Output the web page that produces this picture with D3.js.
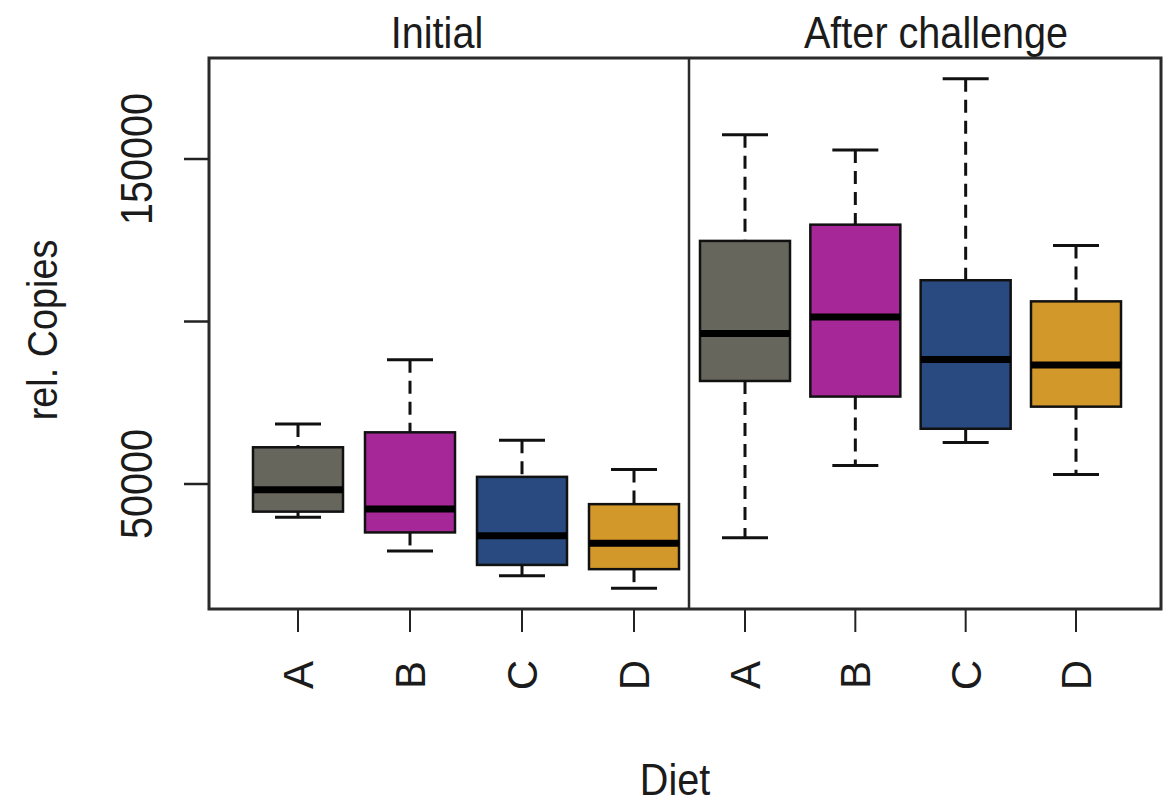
<!DOCTYPE html>
<html>
<head>
<meta charset="utf-8">
<script src="https://cdn.jsdelivr.net/npm/d3@7"></script>
<style>
  html, body { margin: 0; padding: 0; background: #fff; }
  svg { display: block; }
  text { font-family: "Liberation Sans", Arial, sans-serif; fill: #1b1b1b; }
</style>
</head>
<body>
<svg id="chart" width="1163" height="808"></svg>
<script>
// Diet groups and measurement periods
const diets = ["A", "B", "C", "D"];
const periods = ["Initial", "After challenge"];
const dietColors = ["#67665c", "#a62898", "#284a80", "#d3982a"];

// Five-number summaries per diet, initial sampling
const initialLow    = [39800, 29400, 21800, 17900];
const initialQ1     = [41500, 35100, 25100, 23800];
const initialMedian = [48200, 42300, 34100, 31800];
const initialQ3     = [61300, 65900, 52200, 43800];
const initialHigh   = [68500, 88200, 63500, 54500];

// Five-number summaries per diet, after challenge
const challengeLow    = [33500, 55700, 62800, 52900];
const challengeQ1     = [81700, 76900, 67000, 73800];
const challengeMedian = [96300, 101400, 88300, 86600];
const challengeQ3     = [124800, 129800, 112700, 106200];
const challengeHigh   = [157500, 152800, 174700, 123400];

// Axis ticks; the middle tick carries no label
const yTicks = [50000, 100000, 150000];
const yTickLabels = ["50000", "", "150000"];
const yLabel = "rel. Copies";
const xLabel = "Diet";

const svg = d3.select("#chart");
const W = 1163, H = 808;
svg.append("rect").attr("width", W).attr("height", H).attr("fill", "#fff");

const plot = { left: 209, right: 1161, top: 58, bottom: 609, split: 689 };

const y = d3.scaleLinear().domain([11540, 181080]).range([plot.bottom, plot.top]);

const panels = [
  { name: periods[0], x0: plot.left, x1: plot.split, padL: 89, padR: 55, labelX: 437,
    low: initialLow, q1: initialQ1, med: initialMedian, q3: initialQ3, high: initialHigh },
  { name: periods[1], x0: plot.split, x1: plot.right, padL: 56, padR: 85, labelX: 936,
    low: challengeLow, q1: challengeQ1, med: challengeMedian, q3: challengeQ3, high: challengeHigh }
];

const boxW = 90, capW = 46;
const condense = "scale(0.9,1)";

panels.forEach(p => {
  const x = d3.scalePoint().domain(diets).range([p.x0 + p.padL, p.x1 - p.padR]);
  const g = svg.append("g");
  const rows = diets.map((d, i) => ({
    diet: d, color: dietColors[i],
    low: p.low[i], q1: p.q1[i], med: p.med[i], q3: p.q3[i], high: p.high[i]
  }));

  const b = g.selectAll("g.box").data(rows).join("g").attr("class", "box");

  // dashed whiskers
  b.append("line")
    .attr("x1", d => x(d.diet)).attr("x2", d => x(d.diet))
    .attr("y1", d => y(d.high)).attr("y2", d => y(d.q3))
    .attr("stroke", "#111").attr("stroke-width", 3).attr("stroke-dasharray", "13,8");
  b.append("line")
    .attr("x1", d => x(d.diet)).attr("x2", d => x(d.diet))
    .attr("y1", d => y(d.q1)).attr("y2", d => y(d.low))
    .attr("stroke", "#111").attr("stroke-width", 3).attr("stroke-dasharray", "13,8");
  // whisker caps
  ["low", "high"].forEach(k => {
    b.append("line")
      .attr("x1", d => x(d.diet) - capW / 2).attr("x2", d => x(d.diet) + capW / 2)
      .attr("y1", d => y(d[k])).attr("y2", d => y(d[k]))
      .attr("stroke", "#111").attr("stroke-width", 3);
  });
  // boxes
  b.append("rect")
    .attr("x", d => x(d.diet) - boxW / 2).attr("width", boxW)
    .attr("y", d => y(d.q3)).attr("height", d => y(d.q1) - y(d.q3))
    .attr("fill", d => d.color).attr("stroke", "#111").attr("stroke-width", 2.5);
  // medians
  b.append("line")
    .attr("x1", d => x(d.diet) - boxW / 2).attr("x2", d => x(d.diet) + boxW / 2)
    .attr("y1", d => y(d.med)).attr("y2", d => y(d.med))
    .attr("stroke", "#000").attr("stroke-width", 7);

  // x ticks and rotated diet labels
  const ax = svg.append("g");
  ax.selectAll("line").data(diets).join("line")
    .attr("x1", d => x(d)).attr("x2", d => x(d))
    .attr("y1", plot.bottom).attr("y2", plot.bottom + 23)
    .attr("stroke", "#222").attr("stroke-width", 2);
  ax.selectAll("text").data(diets).join("text")
    .attr("transform", d => `translate(${x(d) + 15},675) rotate(-90)`)
    .attr("text-anchor", "middle")
    .style("font-size", "42px")
    .text(d => d);

  // panel heading
  svg.append("text")
    .attr("transform", `translate(${p.labelX},48) ${condense}`)
    .attr("text-anchor", "middle")
    .style("font-size", "44px")
    .text(p.name);
});

// frame and panel divider
svg.append("rect")
  .attr("x", plot.left).attr("y", plot.top)
  .attr("width", plot.right - plot.left).attr("height", plot.bottom - plot.top)
  .attr("fill", "none").attr("stroke", "#2a2a2a").attr("stroke-width", 3);
svg.append("line")
  .attr("x1", plot.split).attr("x2", plot.split)
  .attr("y1", plot.top).attr("y2", plot.bottom)
  .attr("stroke", "#2a2a2a").attr("stroke-width", 2.5);

// y axis
const ya = svg.append("g");
ya.selectAll("line").data(yTicks).join("line")
  .attr("x1", plot.left - 25).attr("x2", plot.left)
  .attr("y1", d => y(d)).attr("y2", d => y(d))
  .attr("stroke", "#222").attr("stroke-width", 2.5);
ya.selectAll("text").data(yTicks).join("text")
  .attr("transform", d => `translate(152,${y(d)}) rotate(-90) ${condense}`)
  .attr("text-anchor", "middle")
  .style("font-size", "44px")
  .text((d, i) => yTickLabels[i]);

svg.append("text")
  .attr("transform", `translate(57,330) rotate(-90) ${condense}`)
  .attr("text-anchor", "middle")
  .style("font-size", "42px")
  .text(yLabel);

svg.append("text")
  .attr("transform", `translate(675,795) ${condense}`)
  .attr("text-anchor", "middle")
  .style("font-size", "44px")
  .text(xLabel);
</script>
</body>
</html>
